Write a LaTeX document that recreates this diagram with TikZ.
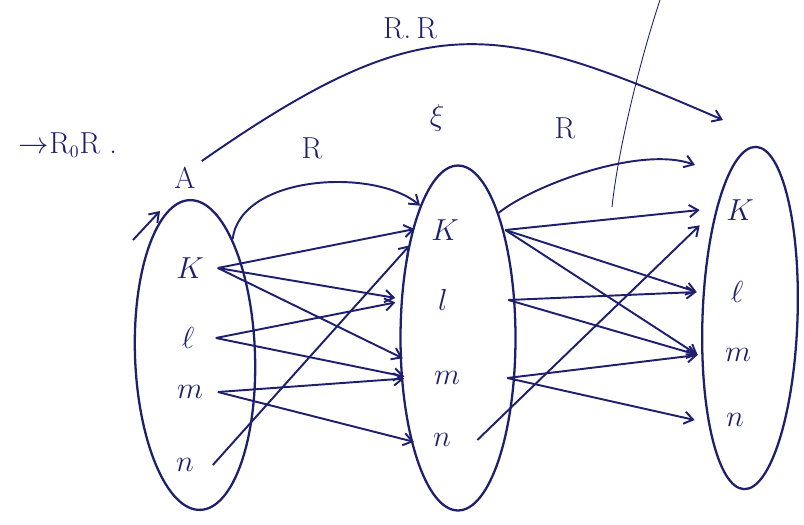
\documentclass[tikz,border=0pt]{standalone}
\usepackage{amsmath, amssymb}
\usepackage{xcolor}
\definecolor{ink}{RGB}{30, 32, 110}
\usepackage{tikz}
\usetikzlibrary{
    shapes.geometric,
    arrows.meta,
    positioning,
    calc
}

\begin{document}
\begin{tikzpicture}[
    x=0.02cm, y=-0.02cm,
    >={Straight Barb[length=5pt, width=7pt]},
    setbox/.style={draw=ink, ellipse, line width=1.3pt, inner sep=0pt},
    elem/.style={font=\LARGE, text=ink, inner sep=0pt, minimum height=0.6cm},
    elemA/.style={elem, minimum width=1.1cm},
    elemB/.style={elem, minimum width=1.4cm},
    elemC/.style={elem, minimum width=1.6cm},
    rel/.style={->, draw=ink, line width=1.1pt},
    rlabel/.style={font=\LARGE, text=ink}
]
\useasboundingbox (0,0) rectangle (804,524);

% ==================== SETS ====================
\node[setbox, minimum width=2.4cm, minimum height=6.2cm, rotate=2] (setA) at (195,355) {};
\node[setbox, minimum width=2.3cm, minimum height=6.9cm] (setB) at (458,338) {};
\node[setbox, minimum width=1.9cm, minimum height=6.85cm, rotate=-2] (setC) at (750,318) {};

% ==================== ELEMENTS ====================
\node[elemA] (Ak) at (190,268) {$K$};
\node[elemA] (Al) at (188,338) {$\ell$};
\node[elemA] (Am) at (190,392) {$m$};
\node[elemA] (An) at (185,465) {$n$};

\node[elemB] (Bk) at (445,230) {$K$};
\node[elemB] (Bl) at (443,300) {$l$};
\node[elemB] (Bm) at (447,378) {$m$};
\node[elemB] (Bn) at (442,440) {$n$};

\node[elemC] (Ck) at (740,210) {$K$};
\node[elemC] (Cl) at (737,292) {$\ell$};
\node[elemC] (Cm) at (738,355) {$m$};
\node[elemC] (Cn) at (735,420) {$n$};

% ==================== LABELS ====================
\node[rlabel] (rr) at (410,28) {R.\,R};
\node[rlabel] (ror) at (68,145) {$\to$R$_{\scriptscriptstyle 0}$R\ .};
\node[rlabel] (Alab) at (185,178) {A};
\node[rlabel] (Rab) at (312,148) {R};
\node[rlabel] (Bxi) at (437,118) {$\xi$};
\node[rlabel] (Rbc) at (565,128) {R};

% ==================== RELATION A -> B ====================
\foreach \s/\t/\d in {
    Ak.east/Bk.west/-0.1,
    Ak.east/Bl.west/0.25,
    Ak.east/Bm.north west/0.2,
    Al.east/Bl.west/0.25,
    Al.east/Bm.west/0.15,
    Am.east/Bm.west/0.15,
    Am.east/Bn.west/-0.15,
    An.east/Bk.south west/0
} {
    \draw[rel, shorten >=\d cm] (\s) -- (\t);
}

% ==================== RELATION B -> C ====================
\foreach \s/\t/\b in {
    Bk.east/Ck.west/0.5,
    Bk.east/Cl.west/0.5,
    Bk.east/Cm.west/0.5,
    Bl.east/Cl.west/0.6,
    Bl.east/Cm.west/0.6,
    Bm.east/Cm.west/0.5,
    Bm.east/Cn.west/0.5,
    Bn.east/Ck.south west/0
} {
    \draw[rel] ([xshift=\b cm]\s) -- (\t);
}

% ==================== ARCS ====================
\coordinate (tipbc) at (695,165);
\coordinate (tiprr) at (723,120);
\coordinate (inA) at (133,240);
\coordinate (onA) at (160,211);

\draw[rel] (setA.70) .. controls +(8,-65) and +(-45,-38) .. (setB.106);
\draw[rel] (setB.72) .. controls +(33,-27) and +(-55,-20) .. (tipbc);
\draw[rel] (Alab.north east) .. controls +(225,-157) and +(-229,-99) .. (tiprr);
\draw[rel] (inA) -- (onA);

% stray pen stroke
\draw[ink, line width=0.5pt] (612,207) .. controls (618,150) and (640,60) .. (660,0);

\end{tikzpicture}
\end{document}
